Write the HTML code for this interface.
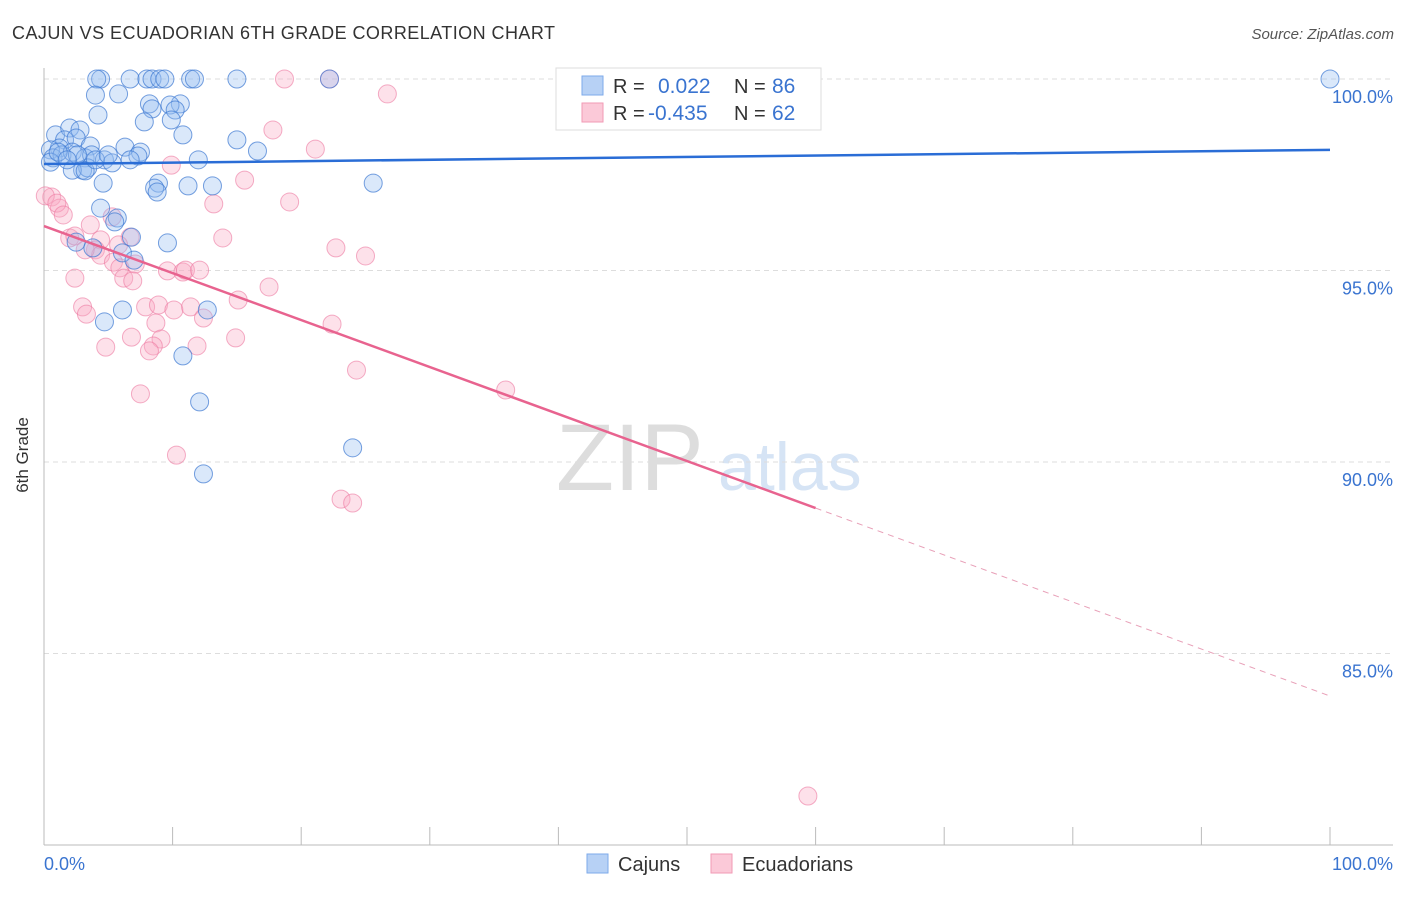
<!DOCTYPE html>
<html><head><meta charset="utf-8"><style>
body{margin:0;background:#fff;font-family:"Liberation Sans",sans-serif}
svg text{font-family:"Liberation Sans",sans-serif}
</style></head><body>
<svg width="1406" height="892" xmlns="http://www.w3.org/2000/svg">
<text x="12" y="39" font-size="18" fill="#333" textLength="543">CAJUN VS ECUADORIAN 6TH GRADE CORRELATION CHART</text>
<text x="1394" y="39" font-size="15" fill="#555" font-style="italic" text-anchor="end">Source: ZipAtlas.com</text>
<text x="556" y="490" font-size="95" fill="#ddd" font-family="Liberation Serif">ZIP</text>
<text x="718" y="490" font-size="68" fill="#d6e4f5">atlas</text>
<g id="grid"></g>
<line x1="44" y1="68" x2="44" y2="845" stroke="#bbb"/>
<line x1="44" y1="845" x2="1393" y2="845" stroke="#bbb"/>
<text x="28" y="455" font-size="17" fill="#333" transform="rotate(-90 28 455)" text-anchor="middle">6th Grade</text>
<text x="44" y="870" font-size="18" fill="#3a74d0">0.0%</text>
<text x="1393" y="870" font-size="18" fill="#3a74d0" text-anchor="end">100.0%</text>
<g id="pts"></g>
<g id="trend"></g>
<g>
<rect x="556" y="68" width="265" height="62" fill="#fff" stroke="#ddd"/>
<rect x="582" y="76" width="21" height="19" fill="#b7d1f5" stroke="#7eaaea"/>
<rect x="582" y="103" width="21" height="19" fill="#fbc9d8" stroke="#f19ab5"/>
<text x="613" y="93" font-size="20" fill="#333">R =</text>
<text x="658" y="93" font-size="21" fill="#3a74d0">0.022</text>
<text x="734" y="93" font-size="20" fill="#333">N =</text>
<text x="772" y="93" font-size="21" fill="#3a74d0">86</text>
<text x="613" y="120" font-size="20" fill="#333">R =</text>
<text x="648" y="120" font-size="21" fill="#3a74d0">-0.435</text>
<text x="734" y="120" font-size="20" fill="#333">N =</text>
<text x="772" y="120" font-size="21" fill="#3a74d0">62</text>
</g>
<g>
<rect x="587" y="854" width="21" height="19" fill="#b7d1f5" stroke="#7eaaea"/>
<text x="618" y="871" font-size="20" fill="#333">Cajuns</text>
<rect x="711" y="854" width="21" height="19" fill="#fbc9d8" stroke="#f19ab5"/>
<text x="742" y="871" font-size="20" fill="#333">Ecuadorians</text>
</g>
</svg>
<script>
const yTicks=[100,95,90,85];
const yTickLabels=["100.0%","95.0%","90.0%","85.0%"];
const xTicks=[0,10,20,30,40,50,60,70,80,90,100];
const blueX=[4.4,4.1,6.7,8.0,8.4,9.0,9.4,11.4,11.7,15.0,22.2,100,4.0,5.8,8.2,10.6,8.4,9.8,10.2,4.2,7.8,9.9,10.8,15.0,16.6,0.9,2.0,2.8,1.6,2.5,3.6,1.2,0.5,0.7,1.4,2.2,3.2,3.7,4.7,5.3,6.3,7.5,7.3,12.0,0.5,3.0,3.4,2.2,4.6,8.9,8.6,8.8,11.2,13.1,25.6,4.4,5.7,5.5,6.8,2.5,3.8,6.1,7.0,9.6,6.1,12.7,4.7,10.8,12.1,24.0,12.4,3.2,6.7,4.0,5.0,2.6,1.1,1.8];
const blueY=[100,100,100,100,100,100,100,100,100,100,100,100,99.58,99.61,99.35,99.35,99.22,99.32,99.19,99.06,98.88,98.93,98.54,98.41,98.12,98.54,98.72,98.67,98.41,98.46,98.25,98.2,98.15,97.94,98.02,98.09,97.94,98.02,97.89,97.81,98.22,98.09,97.99,97.89,97.83,97.62,97.68,97.62,97.28,97.28,97.15,97.05,97.21,97.21,97.28,96.63,96.37,96.27,95.87,95.74,95.59,95.46,95.27,95.72,93.97,93.97,93.66,92.77,91.57,90.37,89.69,97.6,97.89,97.89,98.02,98.02,98.09,97.89];
const pinkX=[18.7,22.2,26.7,17.8,21.1,9.9,15.6,19.1,13.2,0.6,0.1,1.2,1.0,1.5,3.6,5.3,2.0,2.4,4.4,4.0,6.7,13.9,22.7,25.0,2.4,4.4,5.4,5.9,6.2,6.9,9.6,10.8,11.0,12.1,17.5,15.1,3.0,3.3,7.9,8.9,10.1,11.4,12.4,8.7,22.4,6.8,9.1,4.8,8.5,8.2,11.9,14.9,24.3,35.9,7.5,10.3,23.1,24.0,59.4,7.1,3.2,5.8];
const pinkY=[100,100,99.61,98.67,98.17,97.75,97.36,96.79,96.74,96.92,96.95,96.63,96.76,96.45,96.19,96.4,95.85,95.9,95.8,95.54,95.87,95.85,95.59,95.38,94.8,95.4,95.22,95.07,94.8,94.73,94.99,94.96,95.01,95.01,94.57,94.23,94.05,93.86,94.05,94.1,93.97,94.05,93.76,93.63,93.6,93.26,93.21,93.0,93.03,92.9,93.03,93.24,92.4,91.88,91.78,90.18,89.03,88.93,81.28,95.17,95.54,95.67];
const blueTrend=[97.78,0.0037];
const pinkTrend=[96.16,-0.1227];
const NS="http://www.w3.org/2000/svg";
const sx=v=>44+v*12.86, sy=v=>79+(100-v)*38.3;
function mk(tag,attrs,parent){const e=document.createElementNS(NS,tag);for(const k in attrs)e.setAttribute(k,attrs[k]);parent.appendChild(e);return e;}
const grid=document.getElementById('grid');
yTicks.forEach((t,i)=>{
 const l=mk('line',{x1:44,x2:1393,y1:sy(t),y2:sy(t),stroke:'#ddd','stroke-dasharray':'5,4'},grid);
 
 
 const tx=mk('text',{x:1393,y:sy(t)+24,'font-size':18,fill:'#3a74d0','text-anchor':'end'},grid);
 tx.textContent=yTickLabels[i];
 
 
});
xTicks.forEach(t=>{
 const l=mk('line',{x1:sx(t),x2:sx(t),y1:827,y2:845,stroke:'#bbb'},grid);
 
 
});
const pts=document.getElementById('pts');
pinkX.forEach((x,i)=>{
 const c=mk('circle',{cx:sx(x),cy:sy(pinkY[i]),r:9,fill:'rgba(248,170,195,0.35)',stroke:'rgba(236,120,160,0.6)','stroke-width':1},pts);
 
 
});
blueX.forEach((x,i)=>{
 const c=mk('circle',{cx:sx(x),cy:sy(blueY[i]),r:9,fill:'rgba(150,190,240,0.35)',stroke:'rgba(60,120,210,0.7)','stroke-width':1},pts);
 
 
});
const tr=document.getElementById('trend');
const bl=mk('line',{x1:sx(0),y1:sy(blueTrend[0]),x2:sx(100),y2:sy(blueTrend[0]+blueTrend[1]*100),stroke:'#2a6dd6','stroke-width':2.5},tr);


const pl=mk('line',{x1:sx(0),y1:sy(pinkTrend[0]),x2:sx(60),y2:sy(pinkTrend[0]+pinkTrend[1]*60),stroke:'#e8638f','stroke-width':2.5},tr);


const pd=mk('line',{x1:sx(60),y1:sy(pinkTrend[0]+pinkTrend[1]*60),x2:sx(100),y2:sy(pinkTrend[0]+pinkTrend[1]*100),stroke:'#e8a0b8','stroke-width':1,'stroke-dasharray':'6,5'},tr);


</script>
</body></html>
